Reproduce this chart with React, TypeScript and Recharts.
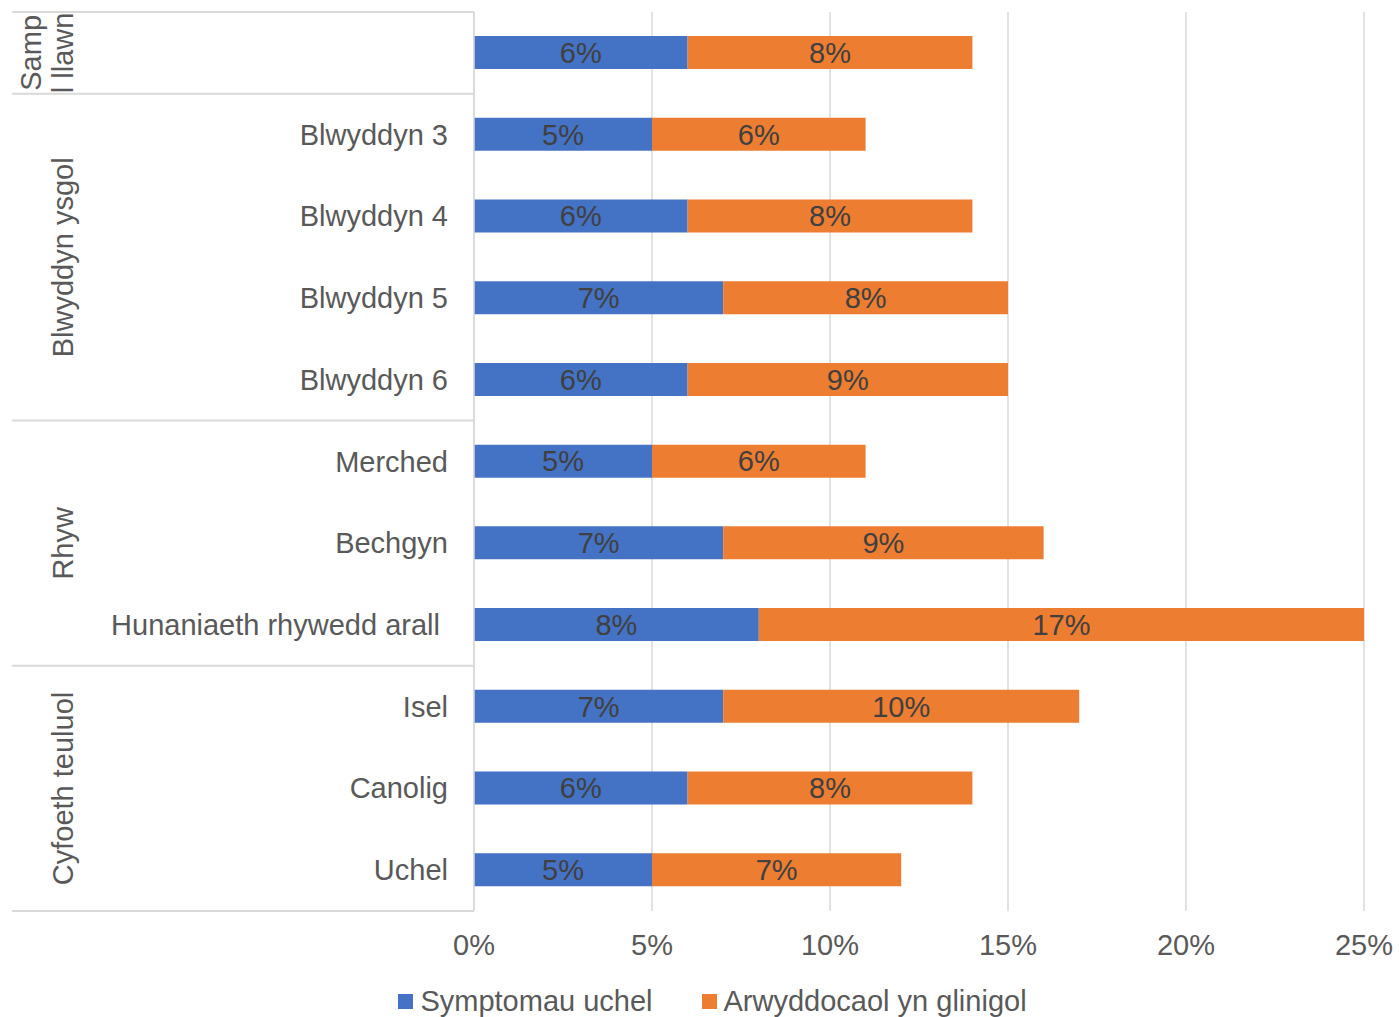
import { BarChart, Bar, XAxis, YAxis, CartesianGrid, LabelList, Legend } from "recharts";

// rows, top to bottom
const rowNames = [
  "Sampl llawn",
  "Blwyddyn 3",
  "Blwyddyn 4",
  "Blwyddyn 5",
  "Blwyddyn 6",
  "Merched",
  "Bechgyn",
  "Hunaniaeth rhywedd arall",
  "Isel",
  "Canolig",
  "Uchel",
];
const rowLabels = ["", "Blwyddyn 3", "Blwyddyn 4", "Blwyddyn 5", "Blwyddyn 6", "Merched", "Bechgyn", "Hunaniaeth rhywedd arall\u00a0", "Isel", "Canolig", "Uchel"];
const symptomau = [6, 5, 6, 7, 6, 5, 7, 8, 7, 6, 5];
const arwyddocaol = [8, 6, 8, 8, 9, 6, 9, 17, 10, 8, 7];

const groupNames = [["Samp", "l llawn"], ["Blwyddyn ysgol"], ["Rhyw"], ["Cyfoeth teuluol"]];
const groupStarts = [0, 1, 5, 8];
const groupSizes = [1, 4, 3, 3];

const xTicks = [0, 5, 10, 15, 20, 25];

const seriesNames = ["Symptomau uchel", "Arwyddocaol yn glinigol"];
const seriesColors = ["#4472C4", "#ED7D31"];

const data = rowNames.map((name, i) => ({
  name,
  symptomau: symptomau[i],
  arwyddocaol: arwyddocaol[i],
}));

const W = 1399;
const H = 1017;
// legend reserves ~29px at the bottom on top of this margin
const margin = { top: 12, right: 35, bottom: 76, left: 0 };
const AXIS_W = 474;
const PLOT_H = 900;
const band = PLOT_H / rowNames.length;
const FONT = "'Liberation Sans', Arial, sans-serif";
const TXT = "#595959";
const LINE = "#d9d9d9";
const FS = 29;

const CategoryTick = (props: any) => {
  const { y, payload } = props;
  const index = props.index ?? payload.index;
  const g = groupStarts.indexOf(index);
  const last = index === rowNames.length - 1;
  let groupEl = null;
  if (g >= 0) {
    const top = y - band / 2;
    const cy = top + (groupSizes[g] * band) / 2;
    const lines = groupNames[g];
    const x0 = lines.length > 1 ? 31 : 63;
    groupEl = (
      <g>
        <line x1={12} x2={AXIS_W} y1={top} y2={top} stroke={LINE} strokeWidth={2} />
        {lines.map((l, k) => (
          <text
            key={k}
            x={x0 + k * 32}
            y={cy}
            transform={`rotate(-90 ${x0 + k * 32} ${cy})`}
            textAnchor="middle"
            dominantBaseline="central"
            fontSize={FS}
            fontFamily={FONT}
            fill={TXT}
          >
            {l}
          </text>
        ))}
      </g>
    );
  }
  return (
    <g>
      {groupEl}
      {last && <line x1={12} x2={AXIS_W} y1={y + band / 2} y2={y + band / 2} stroke={LINE} strokeWidth={2} />}
      <text x={448} y={y} textAnchor="end" dominantBaseline="central" fontSize={FS} fontFamily={FONT} fill={TXT} style={{ whiteSpace: "pre" }}>
        {rowLabels[index]}
      </text>
    </g>
  );
};

const LegendContent = () => (
  <div style={{ display: "flex", justifyContent: "center", gap: 49, fontFamily: FONT, fontSize: 29, color: TXT, paddingLeft: 26 }}>
    {seriesNames.map((n, i) => (
      <div key={n} style={{ display: "flex", alignItems: "center" }}>
        <span style={{ display: "inline-block", width: 15, height: 15, background: seriesColors[i], marginRight: 7 }} />
        <span>{n}</span>
      </div>
    ))}
  </div>
);

export default function App() {
  return (
    <div style={{ position: "absolute", left: 0, top: 0, width: W, height: H, background: "#fff" }}>
      <BarChart width={W} height={H} data={data} layout="vertical" margin={margin}>
        <CartesianGrid horizontal={false} stroke={LINE} strokeWidth={1.5} />
        <XAxis
          type="number"
          domain={[0, 25]}
          ticks={xTicks}
          tickFormatter={(v: number) => `${v}%`}
          axisLine={false}
          tickLine={false}
          tickSize={0}
          tickMargin={23}
          tick={{ fill: TXT, fontSize: FS, fontFamily: FONT }}
          interval={0}
        />
        <YAxis
          type="category"
          dataKey="name"
          width={AXIS_W}
          axisLine={{ stroke: LINE, strokeWidth: 1.5 }}
          tickLine={false}
          tick={<CategoryTick />}
          interval={0}
        />
        <Legend
          layout="vertical"
          align="center"
          verticalAlign="middle"
          content={<LegendContent />}
          wrapperStyle={{ top: 985, left: 0, width: W }}
        />
        <Bar dataKey="symptomau" name={seriesNames[0]} stackId="a" fill={seriesColors[0]} barSize={33} isAnimationActive={false}>
          <LabelList dataKey="symptomau" position="center" formatter={(v: any) => `${v}%`} fill="#404040" fontSize={FS} fontFamily={FONT} />
        </Bar>
        <Bar dataKey="arwyddocaol" name={seriesNames[1]} stackId="a" fill={seriesColors[1]} barSize={33} isAnimationActive={false}>
          <LabelList dataKey="arwyddocaol" position="center" formatter={(v: any) => `${v}%`} fill="#404040" fontSize={FS} fontFamily={FONT} />
        </Bar>
      </BarChart>
    </div>
  );
}
